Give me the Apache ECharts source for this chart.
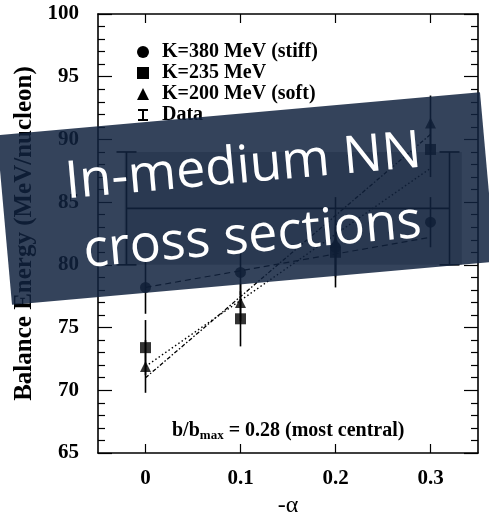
<!DOCTYPE html>
<html>
<head>
<meta charset="utf-8">
<script src="https://cdn.jsdelivr.net/npm/echarts@6/dist/echarts.min.js"></script>
<style>
  html, body { margin: 0; padding: 0; background: #ffffff; overflow: hidden; }
  #chart { width: 489px; height: 515px; }
</style>
</head>
<body>
<div id="chart"></div>
<script>
// -alpha values of the calculations
const alphaValues = [0, 0.1, 0.2, 0.3];

// Balance energy (MeV/nucleon) and its uncertainty for each EOS
const stiffEnergy = [78.2, 79.4, 81.4, 83.4];
const stiffError  = [2.1, 1.8, 2.2, 2.0];
const midEnergy   = [73.4, 75.7, 81.0, 89.2];
const midError    = [2.2, 2.2, 2.0, 2.2];
const softEnergy  = [71.9, 77.0, 81.8, 91.3];
const softError   = [2.1, 1.5, 3.6, 2.2];

// Straight-line fits, evaluated at the ends of the alpha range
const fitAlpha  = [0, 0.3];
const stiffFit  = [78.2, 82.2];
const midFit    = [71.9, 87.7];
const softFit   = [71.0, 90.4];

// Measured balance energy with its error band
const dataBarAlpha  = [-0.02, 0.32];
const dataBandAlpha = [-0.022, 0.333];
const dataEnergy = 84.5;
const dataError  = 4.5;

// Axis ticks
const alphaTicks  = [0, 0.1, 0.2, 0.3];
const alphaLabels = ['0', '0.1', '0.2', '0.3'];
const energyRange = [65, 100];

const seriesNames = ['K=380 MeV (stiff)', 'K=235 MeV', 'K=200 MeV (soft)', 'Data'];

const serif = "'Liberation Serif', 'Times New Roman', serif";
const sans = "'Open Sans', sans-serif";

const chart = echarts.init(document.getElementById('chart'), null,
  { renderer: 'canvas', width: 489, height: 515 });

function points(ys) {
  return alphaValues.map((a, i) => [a, ys[i]]);
}
function errorItems(ys, es) {
  return alphaValues.map((a, i) => [a, ys[i], es[i]]);
}
function fitPoints(ys) {
  return fitAlpha.map((a, i) => [a, ys[i]]);
}

function renderErrorBar(params, api) {
  const x = api.value(0), y = api.value(1), e = api.value(2);
  const lo = api.coord([x, y - e]);
  const hi = api.coord([x, y + e]);
  return {
    type: 'line',
    shape: { x1: lo[0], y1: lo[1], x2: hi[0], y2: hi[1] },
    style: { stroke: '#000', lineWidth: 1.6 }
  };
}

function renderDataBand(params, api) {
  const xl = api.value(0), xr = api.value(1);
  const bl = api.value(2), br = api.value(3);
  const y = api.value(4), e = api.value(5);
  const tl = api.coord([bl, y + e]);
  const b2 = api.coord([br, y - e]);
  const cl = api.coord([xl, y]);
  const cr = api.coord([xr, y]);
  const topY = api.coord([xl, y + e])[1];
  const botY = api.coord([xl, y - e])[1];
  const cap = 10;
  const stroke = { stroke: '#000', lineWidth: 1.6 };
  const children = [
    { type: 'rect', shape: { x: tl[0], y: tl[1], width: b2[0] - tl[0], height: b2[1] - tl[1] },
      style: { fill: '#bcbcbc' } },
    { type: 'line', shape: { x1: cl[0], y1: cl[1], x2: cr[0], y2: cr[1] }, style: stroke }
  ];
  [cl[0], cr[0]].forEach(px => {
    children.push({ type: 'line', shape: { x1: px, y1: topY, x2: px, y2: botY }, style: stroke });
    children.push({ type: 'line', shape: { x1: px - cap, y1: topY, x2: px + cap, y2: topY }, style: stroke });
    children.push({ type: 'line', shape: { x1: px - cap, y1: botY, x2: px + cap, y2: botY }, style: stroke });
  });
  return { type: 'group', children };
}

const yAxisCommon = {
  type: 'value',
  min: energyRange[0],
  max: energyRange[1],
  interval: 5,
  splitLine: { show: false },
  axisLine: { show: true, onZero: false, lineStyle: { color: '#000', width: 1.6 } },
  axisTick: { show: true, inside: true, length: 14, lineStyle: { color: '#000', width: 1.2 } },
  minorTick: { show: true, splitNumber: 5, length: 7, lineStyle: { color: '#000', width: 1.2 } },
  minorSplitLine: { show: false }
};

const xAxisCommon = {
  type: 'value',
  min: -0.05,
  max: 0.35,
  splitLine: { show: false },
  axisLine: { show: true, onZero: false, lineStyle: { color: '#000', width: 1.6 } },
  axisTick: { show: true, inside: true, length: 9, customValues: alphaTicks,
              lineStyle: { color: '#000', width: 1.2 } }
};

// Banner pieces share one transform so the box and its caption tilt together
const bannerZ = 100;

const option = {
  animation: false,
  backgroundColor: '#ffffff',
  color: ['#000000'],
  grid: { left: 98, right: 11, top: 14, bottom: 62, containLabel: false, outerBoundsMode: 'none' },
  xAxis: [
    Object.assign({}, xAxisCommon, {
      position: 'bottom',
      name: '-\u03b1',
      nameLocation: 'middle',
      nameGap: 35,
      nameTextStyle: { fontFamily: serif, fontSize: 24, color: '#000' },
      axisLabel: {
        show: true, margin: 15, customValues: alphaTicks,
        formatter: v => alphaLabels[alphaTicks.findIndex(t => Math.abs(t - v) < 1e-9)],
        fontFamily: serif, fontWeight: 'bold', fontSize: 21, color: '#000'
      }
    }),
    Object.assign({}, xAxisCommon, { position: 'top', axisLabel: { show: false } })
  ],
  yAxis: [
    Object.assign({}, yAxisCommon, {
      position: 'left',
      name: 'Balance Energy (MeV/nucleon)',
      nameLocation: 'middle',
      nameGap: 42,
      nameTextStyle: { fontFamily: serif, fontWeight: 'bold', fontSize: 25, color: '#000' },
      axisLabel: { show: true, margin: 19, fontFamily: serif, fontWeight: 'bold', fontSize: 21, color: '#000' }
    }),
    Object.assign({}, yAxisCommon, { position: 'right', axisLabel: { show: false } })
  ],
  legend: {
    orient: 'vertical',
    left: 132,
    top: 37,
    itemWidth: 12,
    itemHeight: 12,
    itemGap: 1,
    selectedMode: false,
    itemStyle: { color: '#000' },
    textStyle: { fontFamily: serif, fontWeight: 'bold', fontSize: 20, color: '#000',
                 lineHeight: 20, padding: [0, 0, 0, 8] },
    data: [
      { name: seriesNames[0], icon: 'circle' },
      { name: seriesNames[1], icon: 'rect' },
      { name: seriesNames[2], icon: 'triangle' },
      { name: seriesNames[3], icon: 'path://M0,0H10V2H6V10H10V12H0V10H4V2H0Z' }
    ]
  },
  series: [
    {
      name: seriesNames[3], type: 'custom', z: 1,
      renderItem: renderDataBand,
      itemStyle: { color: '#000' },
      data: [[dataBarAlpha[0], dataBarAlpha[1], dataBandAlpha[0], dataBandAlpha[1], dataEnergy, dataError]]
    },
    { name: seriesNames[0], type: 'line', z: 2, data: fitPoints(stiffFit), symbol: 'none',
      itemStyle: { color: '#000' }, lineStyle: { color: '#000', width: 1.2, type: [6, 4] } },
    { name: seriesNames[1], type: 'line', z: 2, data: fitPoints(midFit), symbol: 'none',
      itemStyle: { color: '#000' }, lineStyle: { color: '#000', width: 1.4, type: [1.5, 2.5] } },
    { name: seriesNames[2], type: 'line', z: 2, data: fitPoints(softFit), symbol: 'none',
      itemStyle: { color: '#000' }, lineStyle: { color: '#000', width: 1.3, type: [4, 2, 1.5, 2] } },
    { name: seriesNames[0], type: 'custom', z: 3, renderItem: renderErrorBar, data: errorItems(stiffEnergy, stiffError) },
    { name: seriesNames[1], type: 'custom', z: 3, renderItem: renderErrorBar, data: errorItems(midEnergy, midError) },
    { name: seriesNames[2], type: 'custom', z: 3, renderItem: renderErrorBar, data: errorItems(softEnergy, softError) },
    { name: seriesNames[0], type: 'scatter', z: 4, symbol: 'circle', symbolSize: 11,
      itemStyle: { color: '#000' }, data: points(stiffEnergy) },
    { name: seriesNames[1], type: 'scatter', z: 4, symbol: 'rect', symbolSize: 11,
      itemStyle: { color: '#000' }, data: points(midEnergy) },
    { name: seriesNames[2], type: 'scatter', z: 4, symbol: 'triangle', symbolSize: [11, 11],
      itemStyle: { color: '#000' }, data: points(softEnergy) }
  ],
  graphic: [
    {
      type: 'text', left: 172, top: 421, z: 10,
      style: {
        text: '{n|b/b}{s|max}{n| = 0.28 (most central)}',
        rich: {
          n: { fontFamily: serif, fontWeight: 'bold', fontSize: 20, color: '#000', lineHeight: 22, verticalAlign: 'top' },
          s: { fontFamily: serif, fontWeight: 'bold', fontSize: 13, color: '#000', lineHeight: 22, verticalAlign: 'top', padding: [8, 0, 0, 0] }
        }
      }
    },
    {
      type: 'group', x: 246, y: 198.5, rotation: 5.1 * Math.PI / 180, z: bannerZ,
      children: [
        { type: 'rect', z: bannerZ, shape: { x: -242.5, y: -85, width: 485, height: 170 },
          style: { fill: 'rgba(16, 34, 62, 0.85)' } },
        { type: 'text', z: bannerZ + 1, x: 0, y: -31,
          style: { text: 'In-medium NN', fill: '#ffffff', fontFamily: sans,
                   fontSize: 52, align: 'center', verticalAlign: 'middle' } },
        { type: 'text', z: bannerZ + 1, x: 3, y: 39,
          style: { text: 'cross sections', fill: '#ffffff', fontFamily: sans,
                   fontSize: 52, align: 'center', verticalAlign: 'middle' } }
      ]
    }
  ]
};

chart.setOption(option);
</script>
</body>
</html>
